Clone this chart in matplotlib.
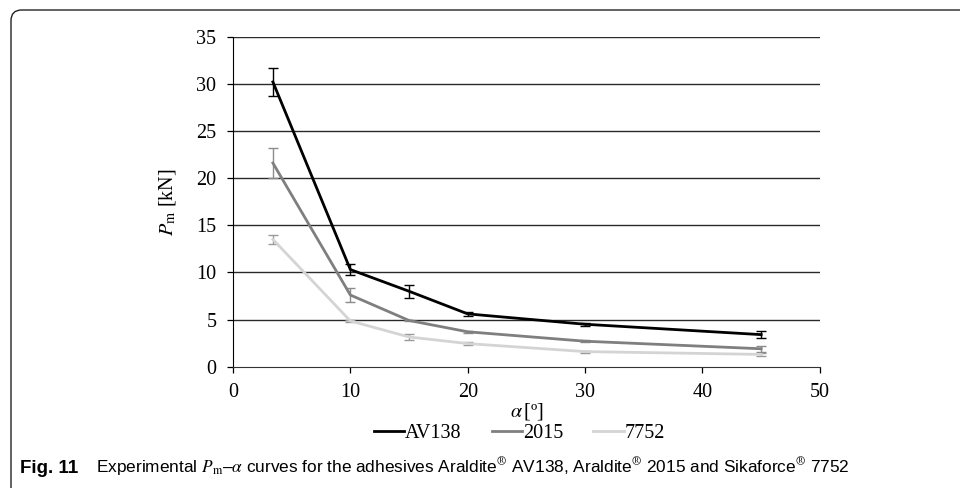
import numpy as np
import matplotlib.pyplot as plt
from matplotlib.patches import FancyBboxPatch
from matplotlib.lines import Line2D

alpha = [3.4, 10, 15, 20, 30, 45]

av138 = [30.2, 10.3, 8.0, 5.6, 4.5, 3.4]
av138_err = [1.5, 0.6, 0.7, 0.25, 0.15, 0.35]

a2015 = [21.6, 7.6, 4.9, 3.7, 2.7, 1.9]
a2015_err = [1.6, 0.7, 0.1, 0.12, 0.1, 0.3]

s7752 = [13.5, 4.85, 3.15, 2.45, 1.6, 1.3]
s7752_err = [0.5, 0.15, 0.3, 0.15, 0.1, 0.15]

series = [
    ('AV138', av138, av138_err, '#000000', '#000000'),
    ('2015', a2015, a2015_err, '#7f7f7f', '#8c8c8c'),
    ('7752', s7752, s7752_err, '#d4d4d4', '#9a9a9a'),
]

plt.rcParams['font.family'] = ['Liberation Serif', 'DejaVu Serif']
plt.rcParams['mathtext.fontset'] = 'stix'

fig = plt.figure(figsize=(9.6, 4.88), dpi=100)
ax = fig.add_axes([0.2427, 0.2486, 0.854 - 0.2427, 0.9248 - 0.2486])

for y in range(5, 40, 5):
    ax.axhline(y, color='#2a2a2a', lw=1.0, zorder=1)

for name, vals, err, col, ecol in series[::-1]:
    ax.errorbar(alpha, vals, yerr=err, fmt='none', ecolor=ecol, elinewidth=1.0,
                capsize=3.5, capthick=1.0, zorder=2)
    ax.plot(alpha, vals, color=col, lw=2.0, zorder=3, label=name)

ax.set_xlim(0, 50)
ax.set_ylim(0, 35)
ax.set_xticks(range(0, 51, 10))
ax.set_yticks(range(0, 36, 5))
for s in ['top', 'right']:
    ax.spines[s].set_visible(False)
ax.spines['left'].set_color('#000000')
ax.spines['bottom'].set_color('#333333')
ax.tick_params(direction='out', length=4, width=0.9, labelsize=14.5, pad=8)

ax.set_xlabel(r'$\alpha\,$[º]', fontsize=14.5, labelpad=-1)
ax.set_ylabel(r'$P_{\mathrm{m}}$ [kN]', fontsize=14.5, labelpad=13)

handles = [Line2D([], [], color=c, lw=2.0) for _, _, _, c, _ in series]
fig.legend(handles, [s[0] for s in series], loc='center', bbox_to_anchor=(0.541, 0.112),
           ncol=3, frameon=False, fontsize=14.5, handlelength=1.5, handletextpad=0.05,
           columnspacing=1.5)

frame = FancyBboxPatch((11 / 960, -0.1), 1.2, 1 - 10 / 488 + 0.1,
                       boxstyle='round,pad=0,rounding_size=0.011',
                       transform=fig.transFigure, fill=False, edgecolor='#222222',
                       lw=1.0, mutation_aspect=2.0)
fig.patches.append(frame)

cap_font = ['Liberation Sans Narrow', 'Liberation Sans', 'DejaVu Sans']
fig.text(20 / 960, 1 - 473 / 488, 'Fig. 11', family=cap_font, fontweight='bold',
         fontsize=13.5, va='baseline')
fig.text(96 / 960, 1 - 473 / 488,
         r'Experimental $P_{\mathrm{m}}$–$\alpha$ curves for the adhesives '
         r'Araldite$^{\circledR}$ AV138, Araldite$^{\circledR}$ 2015 and Sikaforce$^{\circledR}$ 7752',
         family=cap_font, fontsize=12.4, va='baseline')

plt.savefig('out.png', dpi=100)
plt.close()
